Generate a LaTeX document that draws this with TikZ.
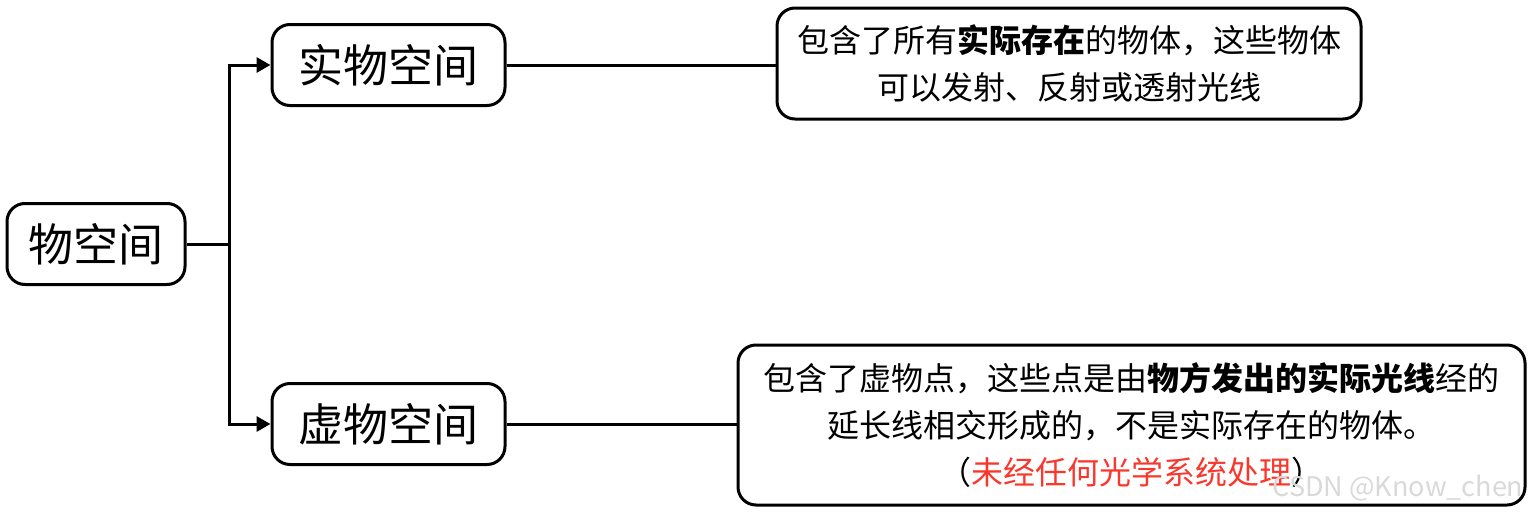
\documentclass[tikz,border=0pt]{standalone}
\usepackage{fontspec}
\setmainfont{Noto Sans CJK SC}
\usetikzlibrary{arrows.meta, positioning}
\definecolor{notered}{RGB}{250,55,45}

\begin{document}
\begin{tikzpicture}[
    x=1pt, y=-1pt,
    line width=3pt,
    every node/.style={font=\fontsize{32}{47}\selectfont},
    topic/.style={
        rectangle, rounded corners=18pt,
        minimum width=178pt,
        minimum height=81pt,
        draw, align=center,
        font=\fontsize{45}{54}\selectfont
    },
    branch/.style={topic, minimum width=233pt},
    note/.style={
        rectangle, rounded corners=18pt,
        inner sep=0pt,
        draw, align=center
    },
    arrow/.style={-{Triangle[length=14pt,width=15pt]}},
]
\useasboundingbox (0,0) rectangle (1531,514);

% Nodes
\node (root) [topic] at (96,244) {物空间};

\node (real) [branch] at (388.5,65) {实物空间};
\node (virt) [branch] at (388.5,424) {虚物空间};

\node (realnote) [note, minimum width=584pt, minimum height=111pt] at (1069,63.5)
    {包含了所有\textbf{实际存在}的物体，这些物体\\可以发射、反射或透射光线};

\node (virtnote) [note, minimum width=787pt, minimum height=160pt] at (1131.5,425)
    {包含了虚物点，这些点是由\textbf{物方发出的实际光线}经的\\
     延长线相交形成的，不是实际存在的物体。\\
     （\textcolor{notered}{未经任何光学系统处理}）};

\node (mark) [font=\fontsize{27}{27}\selectfont, text=gray!30] at (1398,488) {CSDN @Know\_chen};

\coordinate (fork) at (229,244);

% Arrows
\draw (root.east) -- (fork);
\draw [arrow] (fork) |- (real.west);
\draw [arrow] (fork) |- (virt.west);

\draw (real.east) -- (real.east -| realnote.west);
\draw (virt.east) -- (virt.east -| virtnote.west);

\end{tikzpicture}
\end{document}
